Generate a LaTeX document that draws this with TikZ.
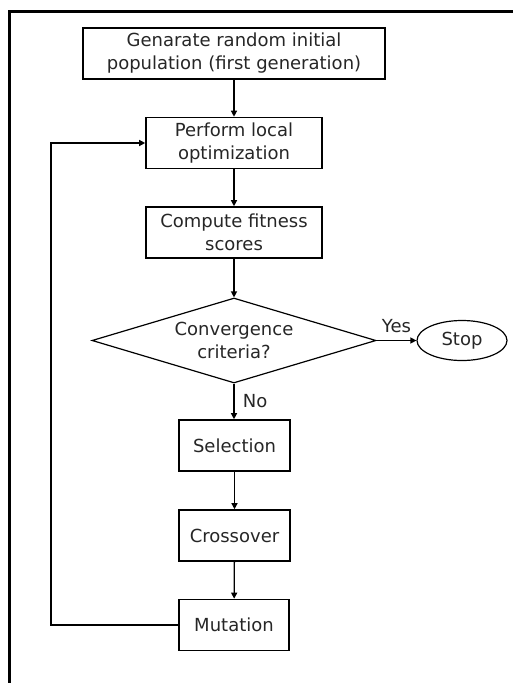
\documentclass[tikz,border=0pt]{standalone}
\usepackage{fontspec}
\setmainfont{DejaVu Sans}
\usetikzlibrary{shapes.geometric,arrows.meta}
\begin{document}
\begin{tikzpicture}[x=1pt,y=-1pt,
  every node/.style={font=\fontsize{18}{23}\selectfont, text=black!85},
  procbox/.style={draw=black, line width=1.6pt, minimum height=51pt, align=center, inner sep=0pt},
  decbox/.style={draw=black, line width=1.2pt, diamond, aspect=3.34, minimum width=284pt, minimum height=85pt, inner sep=0pt, align=center},
  termbox/.style={draw=black, line width=1.2pt, ellipse, minimum width=90pt, minimum height=40pt, inner sep=0pt},
  conn/.style={draw=black, line width=1.3pt, -{Triangle[length=6pt,width=6pt]}},
  lbl/.style={font=\fontsize{18}{23}\selectfont}]
\useasboundingbox (0,0) rectangle (512,683);
\draw[line width=3pt] (9,700) -- (9,11) -- (530,11);
\node[procbox, minimum width=302pt] (init) at (234,53.5) {Genarate random initial\\population (first generation)};
\node[procbox, minimum width=176pt] (local) at (234,143) {Perform local\\optimization};
\node[procbox, minimum width=176pt] (fit) at (234,232.5) {Compute fitness\\scores};
\node[decbox] (conv) at (234,340.5) {Convergence\\criteria?};
\node[termbox] (stop) at (462,340.5) {Stop};
\node[procbox, minimum width=111pt] (sel) at (234.5,445.5) {Selection};
\node[procbox, minimum width=111pt] (cross) at (234.5,535.5) {Crossover};
\node[procbox, minimum width=110pt] (mut) at (234,625) {Mutation};
\coordinate (c1) at (51,625);
\coordinate (c2) at (51,143);
\draw[conn] (init) -- (local);
\draw[conn] (local) -- (fit);
\draw[conn] (fit) -- (conv);
\draw[conn] (conv.east) -- node[lbl, above, pos=0.5, yshift=4pt] {Yes} (stop.west);
\draw[conn] (conv.south) -- node[lbl, right, pos=0.5, xshift=5pt] {No} (sel.north -| conv.south);
\draw[conn] (sel) -- (cross);
\draw[conn] (cross) -- (mut);
\draw[conn] (mut.west) -- (c1) -- (c2) -- (local.west);
\end{tikzpicture}
\end{document}
